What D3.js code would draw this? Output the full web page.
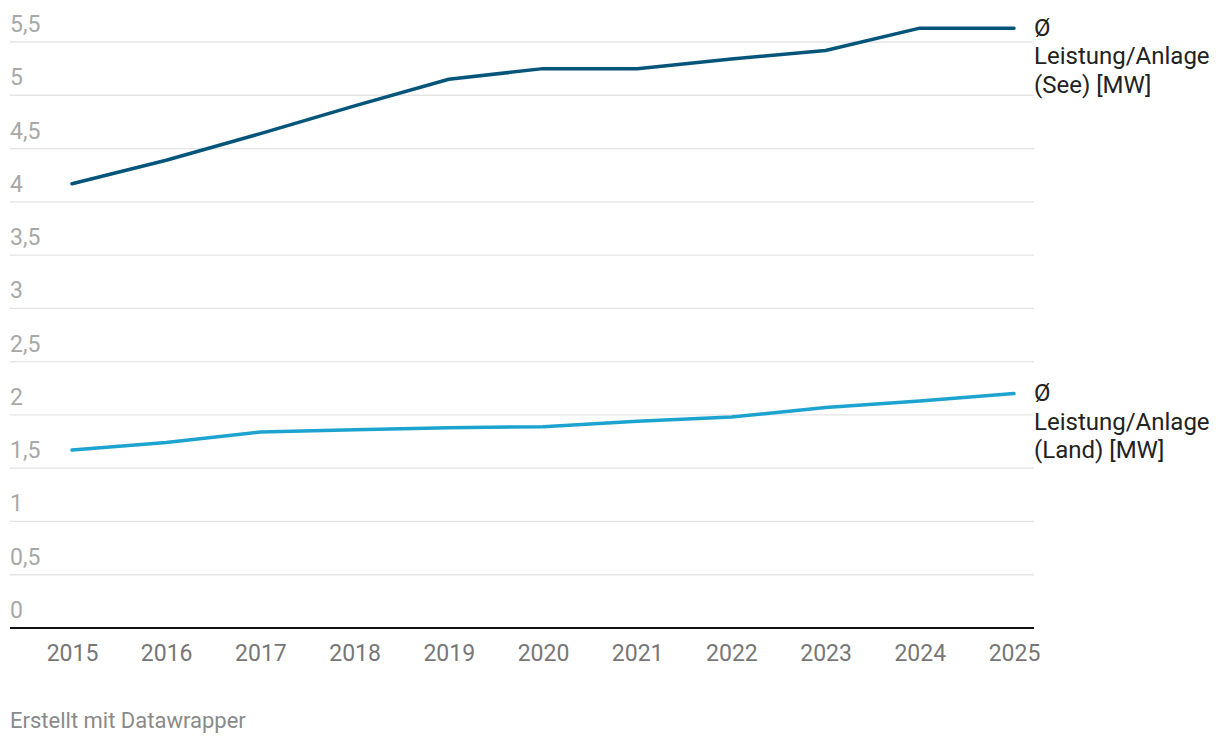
<!DOCTYPE html>
<html>
<head>
<meta charset="utf-8">
<script src="https://cdn.jsdelivr.net/npm/d3@7"></script>
<style>
  body { margin: 0; background: #fff; }
  svg text { font-family: Roboto, "Noto Sans", Arial, sans-serif; }
</style>
</head>
<body>
<div id="chart"></div>
<script>
const years = [2015, 2016, 2017, 2018, 2019, 2020, 2021, 2022, 2023, 2024, 2025];
const seeValues = [4.17, 4.39, 4.64, 4.90, 5.15, 5.25, 5.25, 5.34, 5.42, 5.63, 5.63];
const landValues = [1.67, 1.74, 1.84, 1.86, 1.88, 1.89, 1.94, 1.98, 2.07, 2.13, 2.20];
const yTicks = [0, 0.5, 1, 1.5, 2, 2.5, 3, 3.5, 4, 4.5, 5, 5.5];
const seeLabel = ['Ø', 'Leistung/Anlage', '(See) [MW]'];
const landLabel = ['Ø', 'Leistung/Anlage', '(Land) [MW]'];

const width = 1220, height = 746;
const svg = d3.select('#chart').append('svg')
  .attr('width', width)
  .attr('height', height);

const x = d3.scaleLinear().domain([2015, 2025]).range([72, 1014]);
const y = d3.scaleLinear().domain([0, 5.5]).range([628, 42]);

// gridlines + y labels
const grid = svg.append('g');
grid.selectAll('line')
  .data(yTicks.filter(d => d > 0))
  .join('line')
  .attr('x1', 10).attr('x2', 1034)
  .attr('y1', d => y(d)).attr('y2', d => y(d))
  .attr('stroke', '#e4e4e4')
  .attr('stroke-width', 1.3);

grid.selectAll('text')
  .data(yTicks)
  .join('text')
  .attr('x', 10)
  .attr('y', d => y(d) - 10)
  .attr('fill', '#a8a8a8')
  .style('font-size', '23px')
  .text(d => d3.format('.1~f')(d).replace('.', ','));

// baseline
svg.append('line')
  .attr('x1', 10).attr('x2', 1034)
  .attr('y1', y(0)).attr('y2', y(0))
  .attr('stroke', '#111')
  .attr('stroke-width', 2);

// x axis labels
const xAxis = d3.axisBottom(x)
  .tickValues(years)
  .tickFormat(d3.format('d'))
  .tickSize(0)
  .tickPadding(17);

const gx = svg.append('g')
  .attr('transform', `translate(0, ${y(0)})`)
  .call(xAxis);
gx.select('.domain').remove();
gx.selectAll('text')
  .attr('fill', '#777')
  .style('font-size', '23px')
  .style('font-family', 'Roboto, "Noto Sans", Arial, sans-serif');

const line = d3.line()
  .x((d, i) => x(years[i]))
  .y(d => y(d));

svg.append('path')
  .datum(landValues)
  .attr('d', line)
  .attr('fill', 'none')
  .attr('stroke', '#1ca3d0')
  .attr('stroke-width', 3.5)
  .attr('stroke-linecap', 'round')
  .attr('stroke-linejoin', 'round');

svg.append('path')
  .datum(seeValues)
  .attr('d', line)
  .attr('fill', 'none')
  .attr('stroke', '#05557b')
  .attr('stroke-width', 3.5)
  .attr('stroke-linecap', 'round')
  .attr('stroke-linejoin', 'round');

// series labels on the right
function seriesLabel(lines, value) {
  const t = svg.append('text')
    .attr('x', 1034)
    .attr('y', y(value) + 7.5)
    .attr('fill', '#222')
    .style('font-size', '24px');
  t.selectAll('tspan')
    .data(lines)
    .join('tspan')
    .attr('x', 1034)
    .attr('dy', (d, i) => i === 0 ? 0 : 28.5)
    .text(d => d);
}
seriesLabel(seeLabel, seeValues[seeValues.length - 1]);
seriesLabel(landLabel, landValues[landValues.length - 1]);

// footer
svg.append('text')
  .attr('x', 10)
  .attr('y', 728)
  .attr('fill', '#8a8a8a')
  .style('font-size', '22px')
  .text('Erstellt mit Datawrapper');
</script>
</body>
</html>
